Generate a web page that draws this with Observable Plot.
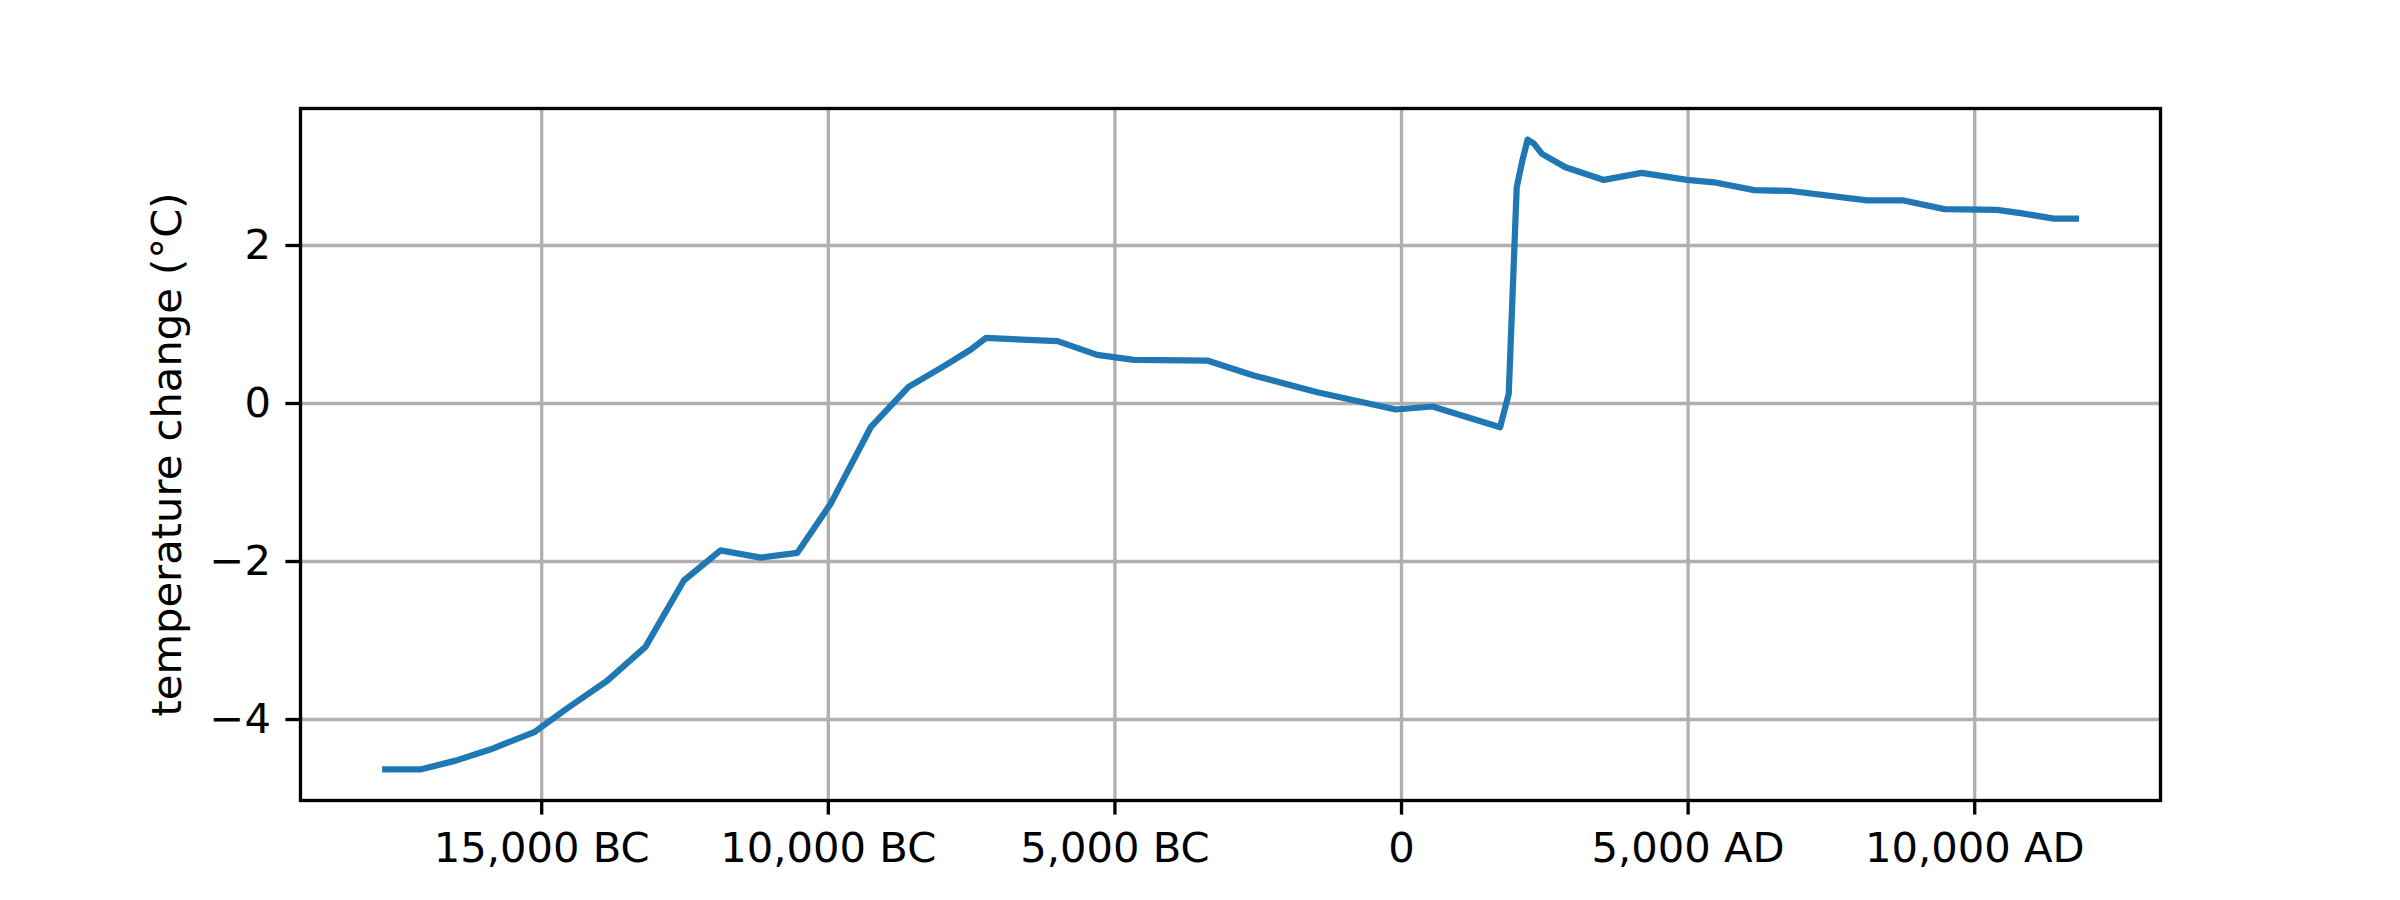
<!DOCTYPE html>
<html>
<head>
<meta charset="utf-8">
<script src="https://cdn.jsdelivr.net/npm/d3@7"></script>
<script src="https://cdn.jsdelivr.net/npm/@observablehq/plot@0.6"></script>
<style>
  html, body { margin: 0; padding: 0; background: white; }
  #chart svg { display: block; }
</style>
</head>
<body>
<div id="chart"></div>
<script>
const years = [
  -17730, -17100, -16500, -15900, -15130, -14560, -13860, -13190, -12520,
  -11880, -11180, -10540, -9960, -9260, -8600, -7990, -7520, -7250,
  -6000, -5310, -4670, -3390, -2580, -1470, -100, 540, 1720, 1870,
  2010, 2110, 2200, 2310, 2450, 2860, 3530, 4190, 4980, 5450,
  6150, 6790, 8120, 8760, 9470, 10390, 10800, 11380, 11765
];
const temps = [
  -4.63, -4.63, -4.52, -4.38, -4.16, -3.86, -3.51, -3.08, -2.24,
  -1.86, -1.95, -1.89, -1.27, -0.30, 0.21, 0.47, 0.68, 0.83,
  0.79, 0.615, 0.553, 0.544, 0.354, 0.143, -0.076, -0.038, -0.30, 0.12,
  2.74, 3.08, 3.34, 3.29, 3.16, 2.99, 2.83, 2.92, 2.83, 2.80,
  2.70, 2.69, 2.57, 2.57, 2.46, 2.45, 2.41, 2.34, 2.34
];
const xTicks = [-15000, -10000, -5000, 0, 5000, 10000];
const xTickLabels = ["15,000 BC", "10,000 BC", "5,000 BC", "0", "5,000 AD", "10,000 AD"];
const yTicks = [-4, -2, 0, 2];
const yTickLabels = ["\u22124", "\u22122", "0", "2"];
const yLabel = "temperature change (\u00b0C)";

const data = years.map((yr, i) => ({year: yr, temp: temps[i]}));

const fs = 41.67;
const chart = Plot.plot({
  width: 2400,
  height: 900,
  marginLeft: 300,
  marginRight: 240,
  marginTop: 108,
  marginBottom: 100,
  x: {domain: [-19208, 13241]},
  y: {domain: [-5.025, 3.734]},
  style: {fontFamily: "DejaVu Sans", fontSize: fs + "px", background: "white", overflow: "visible", color: "black"},
  marks: [
    Plot.gridX(xTicks, {stroke: "#b0b0b0", strokeOpacity: 1, strokeWidth: 3.33}),
    Plot.gridY(yTicks, {stroke: "#b0b0b0", strokeOpacity: 1, strokeWidth: 3.33}),
    Plot.line(data, {x: "year", y: "temp", stroke: "#1f77b4", strokeWidth: 6.25, strokeLinejoin: "round", strokeLinecap: "square"}),
    Plot.frame({stroke: "black", strokeWidth: 3.33}),
    Plot.axisX(xTicks, {
      tickFormat: d => xTickLabels[xTicks.indexOf(d)],
      tickSize: 14.6, tickPadding: 17, strokeWidth: 3.33, label: null, fontSize: fs
    }),
    Plot.axisY(yTicks, {
      tickFormat: d => yTickLabels[yTicks.indexOf(d)],
      tickSize: 14.6, tickPadding: 15, strokeWidth: 3.33, label: null, fontSize: fs
    }),
    Plot.text([yLabel], {
      text: d => d, frameAnchor: "left", dx: -120, rotate: -90,
      lineAnchor: "bottom", textAnchor: "middle", fontSize: fs, fill: "black"
    })
  ]
});
document.getElementById("chart").appendChild(chart);
</script>
</body>
</html>
